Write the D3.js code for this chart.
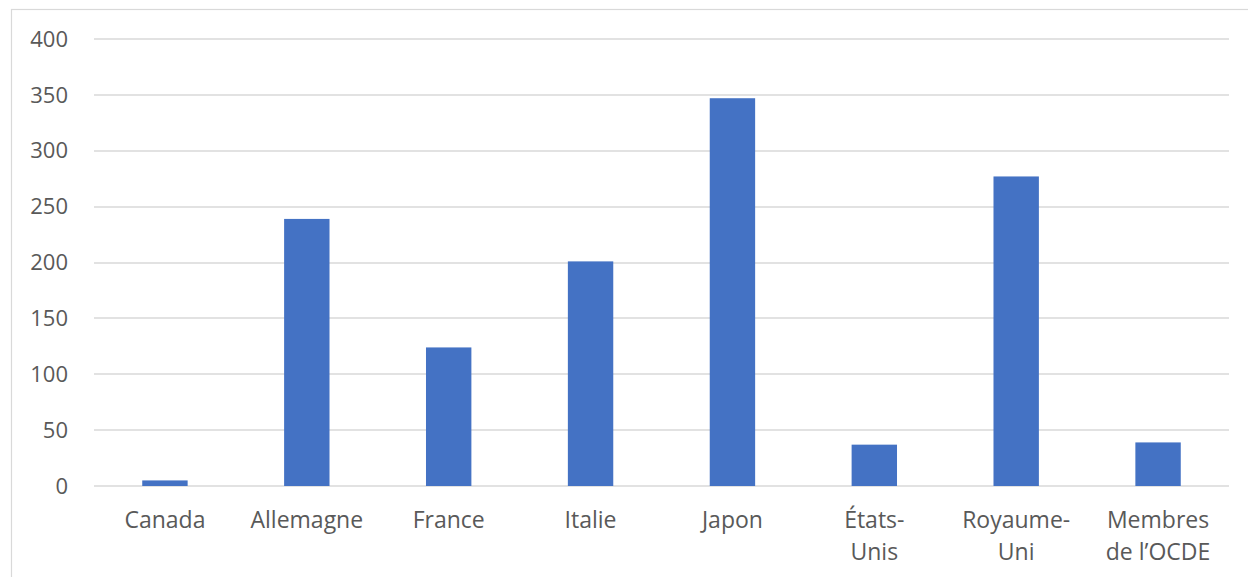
<!DOCTYPE html>
<html>
<head>
  <meta charset="utf-8">
  <script src="https://cdn.jsdelivr.net/npm/d3@7"></script>
  <style>
    body { margin: 0; background: #fff; }
    svg text { font-family: "Open Sans", sans-serif; fill: #595959; }
  </style>
</head>
<body>
<script>
  // data
  var countries = ["Canada", "Allemagne", "France", "Italie", "Japon", "États-Unis", "Royaume-Uni", "Membres de l’OCDE"];
  var labelLines = [["Canada"], ["Allemagne"], ["France"], ["Italie"], ["Japon"], ["États-", "Unis"], ["Royaume-", "Uni"], ["Membres", "de l’OCDE"]];
  var values = [5, 239, 124, 201, 347, 37, 277, 39];
  var yTicks = [0, 50, 100, 150, 200, 250, 300, 350, 400];

  var width = 1248, height = 577;
  var plotLeft = 94, plotRight = 1229, plotTop = 39, plotBottom = 486;

  var svg = d3.select("body").append("svg")
    .attr("width", width)
    .attr("height", height);

  // chart frame
  svg.append("rect")
    .attr("x", 11.5).attr("y", 9.5)
    .attr("width", 1260).attr("height", 600)
    .attr("fill", "none")
    .attr("stroke", "#d9d9d9")
    .attr("stroke-width", 1.2);

  var x = d3.scaleBand()
    .domain(countries)
    .range([plotLeft, plotRight])
    .paddingInner(0.68)
    .paddingOuter(0.34);

  var y = d3.scaleLinear()
    .domain([0, 400])
    .range([plotBottom, plotTop]);

  // gridlines
  svg.append("g")
    .selectAll("line")
    .data(yTicks)
    .enter()
    .append("line")
    .attr("x1", plotLeft).attr("x2", plotRight)
    .attr("y1", function(d) { return Math.round(y(d)); })
    .attr("y2", function(d) { return Math.round(y(d)); })
    .attr("stroke", "#d9d9d9")
    .attr("stroke-width", 1.5);

  // y labels
  svg.append("g")
    .selectAll("text")
    .data(yTicks)
    .enter()
    .append("text")
    .attr("x", 68)
    .attr("y", function(d) { return y(d); })
    .attr("dy", "0.35em")
    .attr("text-anchor", "end")
    .style("font-size", "22px")
    .text(function(d) { return d; });

  // bars
  svg.append("g")
    .selectAll("rect")
    .data(values)
    .enter()
    .append("rect")
    .attr("x", function(d, i) { return x(countries[i]); })
    .attr("y", function(d) { return y(d); })
    .attr("width", x.bandwidth())
    .attr("height", function(d) { return y(0) - y(d); })
    .attr("fill", "#4472c4");

  // category labels
  var cats = svg.append("g")
    .selectAll("text")
    .data(countries)
    .enter()
    .append("text")
    .attr("x", function(d) { return x(d) + x.bandwidth() / 2; })
    .attr("text-anchor", "middle")
    .style("font-size", "23px");

  cats.each(function(d, i) {
    var t = d3.select(this);
    labelLines[i].forEach(function(line, j) {
      t.append("tspan")
        .attr("x", x(d) + x.bandwidth() / 2)
        .attr("y", 520 + j * 32)
        .attr("dy", "0.35em")
        .text(line);
    });
  });
</script>
</body>
</html>
